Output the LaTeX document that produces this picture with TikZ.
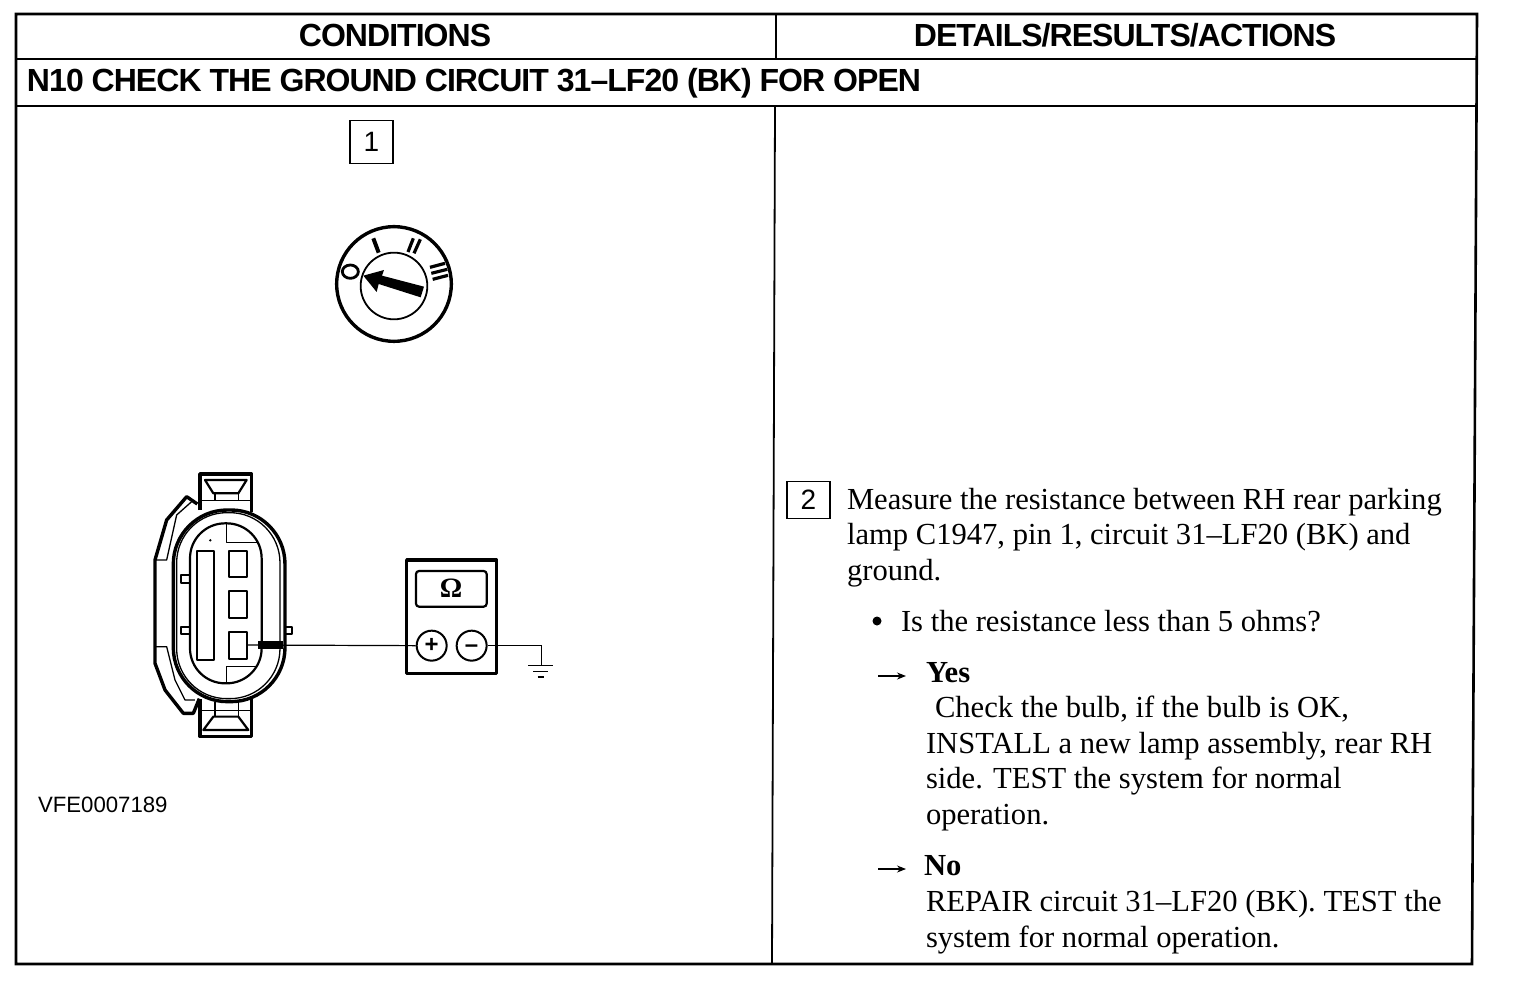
\documentclass[tikz,border=0pt]{standalone}
\usepackage{fontspec}
\setmainfont{Liberation Serif}
\newfontfamily\hdrfont[LetterSpace=-3]{Liberation Sans Bold}
\newfontfamily\labfont{Liberation Sans}
\usetikzlibrary{arrows.meta}
\tikzset{
 x=1pt,y=-1pt,
 base/.style={inner sep=0pt,outer sep=0pt,anchor=base west},
 hdr/.style={base,font=\hdrfont\fontsize{32}{36}\selectfont},
 body/.style={base,font=\fontsize{30.6}{36}\selectfont},
 bodyb/.style={base,font=\bfseries\fontsize{30.6}{36}\selectfont},
 frame/.style={line width=2.6pt,line cap=rect},
 rule/.style={line width=1.8pt},
 numbox/.style={draw,line width=1.2pt,minimum width=43pt,minimum height=43pt,inner sep=0pt,font=\labfont\fontsize{28}{30}\selectfont},
 thk/.style={line width=3.4pt,line join=round},
 med/.style={line width=2.2pt,line join=round},
 thn/.style={line width=1.3pt,line join=round},
 meterbtn/.style={draw,circle,line width=2pt,minimum size=30pt,inner sep=0pt,font=\labfont\bfseries\fontsize{24}{24}\selectfont},
}
\begin{document}
\begin{tikzpicture}
\useasboundingbox (0,0) rectangle (1520,990);
\fill[white] (0,0) rectangle (1520,990);
% table
\draw[frame] (16,14) -- (1477,14) -- (1472,964) -- (16,964) -- cycle;
\draw[rule] (16,59) -- (1476,59);
\draw[rule] (16,106) -- (1476,106);
\draw[rule] (776,14) -- (776,59);
\draw[rule] (775,106) -- (772,964);
% headers
\node[hdr,anchor=base] (h1) at (395,47) {CONDITIONS};
\node[hdr,anchor=base] (h2) at (1125,47) {DETAILS/RESULTS/ACTIONS};
\node[hdr] (h3) at (27,91) {N10 CHECK THE GROUND CIRCUIT 31–LF20 (BK) FOR OPEN};
% step boxes
\node[numbox] (s1) at (371.5,142) {1};
\node[numbox,minimum height=37pt] (s2) at (808.5,500) {2};
% key switch
\begin{scope}[shift={(320,210)},x=0.3333pt,y=-0.3333pt]
 \draw[line width=3.4pt] (222,222) circle (172);
 \draw[line width=1.8pt] (222,228) circle (100);
 \draw[line width=2.8pt] (91,185) ellipse (24 and 20);
 \draw[line width=4pt] (160,85) -- (176,128);
 \draw[line width=3.2pt] (280,85) -- (264,126);
 \draw[line width=3.2pt] (301,88) -- (282,130);
 \draw[line width=3.2pt] (330,172) -- (375,160);
 \draw[line width=3.2pt] (334,190) -- (382,178);
 \draw[line width=3.2pt] (338,208) -- (384,196);
 \fill (130,197) -- (192,180) -- (186,197) -- (312,230) -- (302,262) -- (176,222) -- (170,246) -- cycle;
\end{scope}
% connector
\begin{scope}[shift={(140,460)},x=0.3333pt,y=-0.3333pt]
 \draw[thk] (180,150) -- (180,42) -- (335,42) -- (335,155);
 \draw[med] (195,60) -- (320,60) -- (295,100) -- (220,100) -- cycle;
 \draw[thn] (225,100) -- (225,122) (295,100) -- (295,122) (185,122) -- (332,122);
 \draw[thk] (180,718) -- (180,830) -- (335,830) -- (335,718);
 \draw[med] (190,810) -- (325,810) -- (295,770) -- (220,770) -- cycle;
 \draw[thn] (225,770) -- (225,725) (295,770) -- (295,725) (185,752) -- (332,752);
 \draw[thk,fill=white,rounded corners=54pt] (100,150) rectangle (435,725);
 \draw[thn,rounded corners=50pt] (110,158) rectangle (420,716);
 \draw[med,rounded corners=35pt] (150,190) rectangle (365,670);
 \draw[thn] (260,192) -- (260,248) -- (352,248);
 \draw[thn] (260,668) -- (260,620) -- (352,620);
 \draw[med] (172,272) rectangle (222,600);
 \draw[med] (267,272) rectangle (320,350);
 \draw[med] (267,392) rectangle (320,475);
 \draw[med] (267,516) rectangle (320,597);
 \draw[med] (150,345) -- (122,345) -- (122,370) -- (150,370);
 \draw[med] (150,500) -- (122,500) -- (122,522) -- (150,522);
 \draw[med] (433,500) -- (457,500) -- (457,522) -- (433,522);
 \fill (211,241) circle (4);
 % latch
 \draw[thk] (172,132) -- (140,110) -- (80,180) -- (45,300) -- (45,610) -- (75,690) -- (130,760) -- (160,760) -- (178,716);
 \draw[thn] (155,125) -- (110,165) -- (80,300) -- (45,300);
 \draw[thn] (45,560) -- (80,560) -- (105,660) -- (135,720) -- (165,720);
 \fill (355,543) rectangle (428,567);
\end{scope}
% meter
\begin{scope}[shift={(390,545)},x=0.3333pt,y=-0.3333pt]
 \draw[thk] (50,45) rectangle (320,385);
 \draw[med,rounded corners=3pt] (78,78) rectangle (290,185);
 \node[inner sep=0pt,font=\bfseries\fontsize{28}{30}\selectfont] (om) at (183,130) {Ω};
 \node[meterbtn] (plus) at (125,302) {+};
 \node[meterbtn] (minus) at (245,302) {\vphantom{+}–};
 \coordinate (gnd) at (455,360);
 \draw[line width=1.6pt] (minus.east) -- (455,302) -- (gnd);
 \draw[line width=1.6pt] (415,362) -- (490,362) (430,380) -- (475,380);
 \draw[line width=2pt] (443,395) -- (462,395);
\end{scope}
\coordinate (pin) at (246.7,645);
\draw[line width=1.2pt] (pin) -- (plus.west);
% label
\node[base,font=\labfont\fontsize{22.2}{24}\selectfont] (vfe) at (38,812) {VFE0007189};
% text
\node[body] (t1) at (847,509.5) {Measure the resistance between RH rear parking};
\node[body] (t2) at (847,544.5) {lamp C1947, pin 1, circuit 31–LF20 (BK) and};
\node[body] (t3) at (847,580.5) {ground.};
\fill (877,621) circle (4.5);
\node[body] (t4) at (901,631) {Is the resistance less than 5 ohms?};
\coordinate (a1s) at (878,676); \coordinate (a1e) at (906,676);
\draw[line width=1.2pt,-{Stealth[length=9pt,width=7pt]}] (a1s) -- (a1e);
\node[bodyb] (t5) at (926,682) {Yes};
\node[body] (t6) at (935,717) {Check the bulb, if the bulb is OK,};
\node[body] (t7) at (926,753) {INSTALL a new lamp assembly, rear RH};
\node[body] (t8) at (926,788) {side. TEST the system for normal};
\node[body] (t9) at (926,824) {operation.};
\coordinate (a2s) at (878,869); \coordinate (a2e) at (906,869);
\draw[line width=1.2pt,-{Stealth[length=9pt,width=7pt]}] (a2s) -- (a2e);
\node[bodyb] (t10) at (924,875) {No};
\node[body] (t11) at (926,911) {REPAIR circuit 31–LF20 (BK). TEST the};
\node[body] (t12) at (926,947) {system for normal operation.};
\end{tikzpicture}
\end{document}
